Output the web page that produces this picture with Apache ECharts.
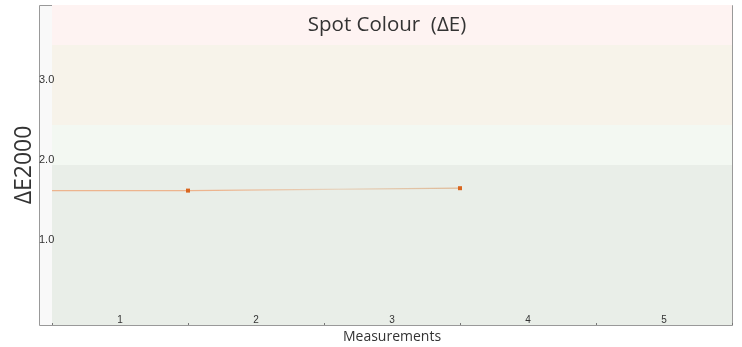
<!DOCTYPE html>
<html>
<head>
<meta charset="utf-8">
<script src="https://cdn.jsdelivr.net/npm/echarts@6/dist/echarts.min.js"></script>
<style>
  html, body { margin: 0; padding: 0; background: #fff; }
  #chart { width: 742px; height: 347px; }
</style>
</head>
<body>
<div id="chart"></div>
<script>
// Measurement categories shown along the bottom axis
var categories = ['1', '2', '3', '4', '5'];
// Spot colour ΔE2000 readings: [position on measurement scale, value]
var positions = [0, 1, 3];
var deltaE = [1.68, 1.68, 1.71];
// Tolerance zones (ΔE limits) and their fills
var zoneLimits = [0, 2.0, 2.5, 3.5, 4.0];
var zoneColors = ['#e9eee8', '#f3f8f2', '#f7f3ea', '#fef3f2'];
// Y ticks
var yTicks = [0, 1, 2, 3, 4];
var yLabelled = [1, 2, 3];

var zones = [];
for (var i = 0; i < zoneColors.length; i++) {
  zones.push([
    { yAxis: zoneLimits[i], itemStyle: { color: zoneColors[i] } },
    { yAxis: zoneLimits[i + 1] }
  ]);
}

var points = positions.map(function (p, i) {
  var item = { value: [p, deltaE[i]] };
  if (i === 0) item.symbol = 'none';
  return item;
});

var chart = echarts.init(document.getElementById('chart'), null, { renderer: 'canvas' });
chart.setOption({
  animation: false,
  backgroundColor: '#ffffff',
  title: {
    text: 'Spot Colour  (ΔE)',
    left: 382,
    textAlign: 'center',
    top: 10,
    textStyle: { fontFamily: 'Open Sans', fontSize: 20.5, fontWeight: 'normal', color: '#333' }
  },
  graphic: [{
    type: 'rect',
    z: -10,
    shape: { x: 39.5, y: 5.5, width: 693, height: 320 },
    style: { fill: '#f9f9f9', stroke: '#999', lineWidth: 1 },
    silent: true
  }],
  grid: { left: 52, right: 10, top: 5, bottom: 22, outerBoundsMode: 'none', containLabel: false },
  xAxis: [{
    type: 'category',
    data: categories,
    boundaryGap: true,
    z: 10,
    name: 'Measurements',
    nameLocation: 'middle',
    nameGap: 5,
    nameMoveOverlap: false,
    nameTextStyle: { fontFamily: 'Open Sans', fontSize: 14, color: '#333' },
    axisLine: { show: true, lineStyle: { color: '#999' } },
    axisTick: { show: true, length: 2, inside: true, lineStyle: { color: '#777' } },
    axisLabel: { show: true, inside: true, margin: 0, interval: 0, fontFamily: 'Liberation Sans', fontSize: 10, color: '#333' },
    splitLine: { show: false }
  }, {
    type: 'value',
    min: 0,
    max: 5,
    show: false
  }],
  yAxis: {
    type: 'value',
    min: yTicks[0],
    max: yTicks[yTicks.length - 1],
    interval: 1,
    offset: 13,
    z: 10,
    name: 'ΔE2000',
    nameLocation: 'middle',
    nameGap: 15,
    nameMoveOverlap: false,
    nameTextStyle: { fontFamily: 'Open Sans', fontSize: 23, color: '#333', verticalAlign: 'middle' },
    axisLine: { show: false },
    axisTick: { show: false },
    splitLine: { show: false },
    axisLabel: {
      inside: true,
      margin: 0,
      fontFamily: 'Liberation Sans',
      fontSize: 11,
      color: '#333',
      verticalAlign: 'bottom',
      formatter: function (v) {
        return yLabelled.indexOf(v) >= 0 ? v.toFixed(1) : '';
      }
    }
  },
  series: [{
    type: 'line',
    xAxisIndex: 1,
    data: points,
    symbol: 'rect',
    symbolSize: 4,
    itemStyle: { color: '#d9661f' },
    lineStyle: {
      width: 1.2,
      color: new echarts.graphic.LinearGradient(0, 0, 1, 0, [
        { offset: 0, color: '#edb48e' },
        { offset: 0.4, color: '#edb48e' },
        { offset: 0.7, color: '#e6d4bf' },
        { offset: 1, color: '#dfb894' }
      ])
    },
    markArea: {
      silent: true,
      data: zones
    },
    z: 3
  }]
});
</script>
</body>
</html>
